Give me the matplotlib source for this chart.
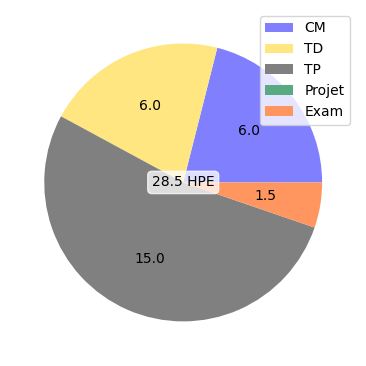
import matplotlib
matplotlib.use("Agg")
import matplotlib.pyplot as plt

labels = ["CM", "TD", "TP", "Projet", "Exam"]
values = [6.0, 6.0, 15.0, 0.0, 1.5]
colors = ["#8080ff", "#ffe680", "#808080", "#59aa80", "#ff9660"]
total = sum(values)

fig = plt.figure(figsize=(3.66, 3.66), dpi=100)
ax = fig.add_axes([0.026, 0.027, 0.949, 0.949])
ax.pie(values, colors=colors,
       autopct=lambda p: f"{p * total / 100:.1f}" if p > 0 else "")
ax.text(0, 0, f"{total:.1f} HPE", ha="center", va="center",
        bbox=dict(boxstyle="round", facecolor="white", edgecolor="white", alpha=0.75))
ax.legend(labels, loc="upper right")
fig.savefig("out.png", dpi=100)
